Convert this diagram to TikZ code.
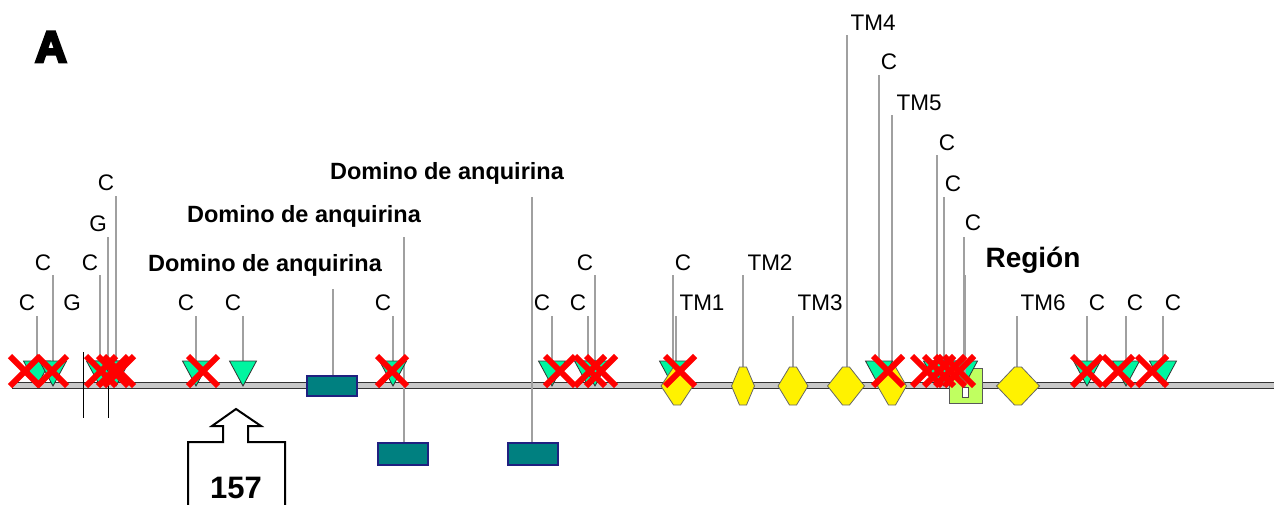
\documentclass[tikz,border=0pt]{standalone}
\usepackage{fontspec}
\setmainfont{Liberation Sans}
\definecolor{trigreen}{HTML}{00F5A0}
\definecolor{tealbox}{HTML}{008080}
\definecolor{navyedge}{HTML}{202080}
\definecolor{leadgray}{HTML}{A0A0A0}
\definecolor{regfill}{HTML}{C0FF60}
\definecolor{bbfill}{HTML}{C8C8C8}
\newcommand\heavytext[1]{\special{pdf:literal 2 Tr 2.6 w}#1\special{pdf:literal 0 Tr 1 w}}
\tikzset{
  lead/.style={draw=leadgray, line width=1.2pt},
  lab/.style={anchor=base, inner sep=0pt, font=\fontsize{22.5}{26}\selectfont},
  dlab/.style={anchor=base, inner sep=0pt, font=\fontsize{23.5}{28}\selectfont\bfseries},
  trimark/.style={fill=trigreen, draw=black!80, line width=0.8pt},
  diam/.style={fill=yellow, draw=black!60, line width=0.8pt},
  anqbox/.style={fill=tealbox, draw=navyedge, line width=1.2pt},
  xmark/.style={draw=red, line width=6pt},
  sepline/.style={draw=black, line width=1pt},
  bigarrow/.style={draw=black, line width=2pt}
}
\begin{document}
\begin{tikzpicture}[x=1pt,y=-1pt]
\useasboundingbox (0,0) rectangle (1274,504);
% panel letter
\node[anchor=base, inner sep=0pt, font=\fontsize{44}{50}\selectfont\bfseries] (panelA) at (51,62) {\heavytext{A}};
% backbone
\node[draw=black!80, fill=bbfill, line width=1pt, minimum width=1262pt, minimum height=6.5pt, inner sep=0pt, anchor=west] (backbone) at (12,385.5) {};
% separator lines
\coordinate (s1t) at (83,352); \coordinate (s1b) at (83,418);
\coordinate (s2t) at (108,352); \coordinate (s2b) at (108,418);
\draw[sepline] (s1t) -- (s1b);
\draw[sepline] (s2t) -- (s2b);
% labels
\foreach \t/\x/\y [count=\i] in {C/27/302, C/43/262, G/72/302, C/90/262, G/98/223, C/106/182, C/186/302, C/233/302, C/383/302, C/542/302, C/578/302, C/585/262, C/683/262, TM1/702/302, TM2/770/262, TM3/820/302, TM4/873/22, C/889/61, TM5/919/102, C/947/142, C/953/183, C/973/222, TM6/1043/302, C/1097/302, C/1135/302, C/1173/302}
  \node[lab] (lab\i) at (\x,{\y+8}) {\t};
\node[dlab] (dom1) at (447,179.5) {Domino de anquirina};
\node[dlab] (dom2) at (304,222.5) {Domino de anquirina};
\node[dlab] (dom3) at (265,271.5) {Domino de anquirina};
\node[anchor=base, inner sep=0pt, font=\fontsize{28}{32}\selectfont\bfseries] (region) at (1033,267) {Región};
% leader lines
\foreach \x/\a/\b [count=\i] in {37/316/361, 53/275/361, 100/275/361, 108/237/361, 116/196/361, 196/316/361, 243/316/361, 393/316/361, 552/316/361, 588/316/361, 595/275/361, 673/275/361, 676/316/367, 743/275/367, 793/316/367, 847/35/367, 879/75/361, 892/115/367, 937/155/361, 944/197/361, 964/237/361, 1017/316/367, 1087/316/361, 1126/316/361, 1163/316/361, 333/289/376, 404/237/443, 532/197/443}
{
  \coordinate (la\i) at (\x,\a);
  \coordinate (lb\i) at (\x,\b);
  \draw[lead] (la\i) -- (lb\i);
}
% ankyrin boxes
\node[anqbox, minimum width=50pt, minimum height=20pt, inner sep=0pt] (box1) at (332,386) {};
\node[anqbox, minimum width=50pt, minimum height=22pt, inner sep=0pt] (box2) at (403,454) {};
\node[anqbox, minimum width=50pt, minimum height=22pt, inner sep=0pt] (box3) at (533,454) {};
% region box
\node[fill=regfill, draw=black!65, line width=1pt, minimum width=33pt, minimum height=35pt, inner sep=0pt] (regbox) at (965.5,385.5) {};
\node[fill=white, draw=black!70, line width=0.8pt, minimum width=6pt, minimum height=10pt, inner sep=0pt] (regin) at (965,392) {};
% triangles
\foreach \x in {37,53,100,108,116,196,243,393,552,588,595,673,879,937,944,964,1087,1126,1163}
  \draw[trimark] ({\x-13.5},361) -- ({\x+13.5},361) -- (\x,386) -- cycle;
% diamonds
\foreach \cx/\w in {677/32, 743/23, 793/30, 846/37, 892/29, 1018/43}
  \draw[diam] ({\cx-3.5},367) -- ({\cx+3.5},367) -- ({\cx+\w/2},386) -- ({\cx+3.5},405) -- ({\cx-3.5},405) -- ({\cx-\w/2},386) -- cycle;
% region leader
\coordinate (rl) at (965,275);
\draw[lead] (rl) -- (regin.north);
% red crosses
\foreach \x in {25,52,101,113,119,203,392,560,590,601,680,888,927,939,950,959,1087,1118,1152}
  \draw[xmark] ({\x-15},356) -- ({\x+15},386) ({\x-15},386) -- ({\x+15},356);
% 157 block arrow
\draw[bigarrow] (188,506) -- (188,442) -- (223,442) -- (223,426) -- (212,426) -- (236,409) -- (261,426) -- (248,426) -- (248,442) -- (285,442) -- (285,506);
\node[anchor=base, inner sep=0pt, font=\fontsize{31}{36}\selectfont\bfseries] (n157) at (236,498) {157};
\end{tikzpicture}
\end{document}
